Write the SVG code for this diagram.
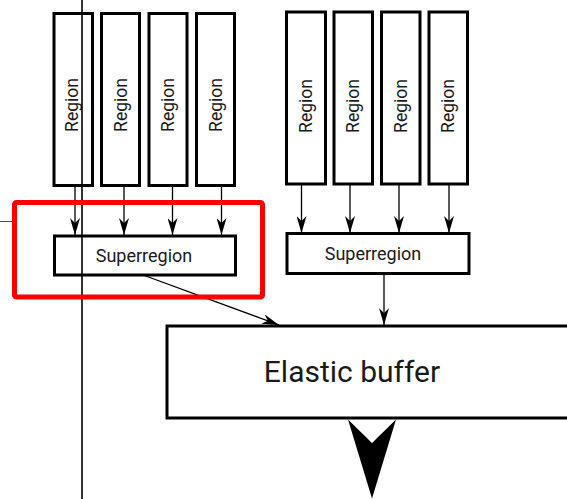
<svg xmlns="http://www.w3.org/2000/svg" width="567" height="499" viewBox="0 0 567 499">
  <style>
    .box { fill: #fff; stroke: #000; stroke-width: 3; }
    .lbl { font-family: Roboto, "Liberation Sans", sans-serif; fill: #1a1a1a; text-anchor: middle; dominant-baseline: central; }
    .reg { font-size: 17.5px; }
    .sup { font-size: 18px; }
    .big { font-size: 30px; }
    .conn { stroke: #000; stroke-width: 1.3; fill: none; }
  </style>
  <defs>
    <marker id="arr" viewBox="0 0 17 10" refX="17" refY="5" markerWidth="17" markerHeight="10" markerUnits="userSpaceOnUse" orient="auto">
      <path d="M0,0 L17,5 L0,10 L5,5 Z" fill="#000"/>
    </marker>
  </defs>
  <rect width="567" height="499" fill="#fff"/>

  <!-- left group of regions -->
  <g id="region-l1"><rect class="box" x="54" y="13.5" width="38.5" height="172"/><text class="lbl reg" transform="translate(72,105) rotate(-90)">Region</text></g>
  <g id="region-l2"><rect class="box" x="101.5" y="13.5" width="38" height="172"/><text class="lbl reg" transform="translate(120.5,105) rotate(-90)">Region</text></g>
  <g id="region-l3"><rect class="box" x="149" y="13.5" width="38" height="172"/><text class="lbl reg" transform="translate(168,105) rotate(-90)">Region</text></g>
  <g id="region-l4"><rect class="box" x="196.5" y="13.5" width="38" height="172"/><text class="lbl reg" transform="translate(215.5,105) rotate(-90)">Region</text></g>
  <g id="superregion-l"><rect class="box" x="54.5" y="236" width="181" height="39"/><text class="lbl sup" x="144" y="255">Superregion</text></g>

  <!-- right group of regions -->
  <g id="region-r1"><rect class="box" x="286.5" y="12" width="39" height="172"/><text class="lbl reg" transform="translate(306,106) rotate(-90)">Region</text></g>
  <g id="region-r2"><rect class="box" x="334" y="12" width="38.5" height="172"/><text class="lbl reg" transform="translate(353,106) rotate(-90)">Region</text></g>
  <g id="region-r3"><rect class="box" x="381.5" y="12" width="38.5" height="172"/><text class="lbl reg" transform="translate(400.5,106) rotate(-90)">Region</text></g>
  <g id="region-r4"><rect class="box" x="429" y="12" width="38.5" height="172"/><text class="lbl reg" transform="translate(448,106) rotate(-90)">Region</text></g>
  <g id="superregion-r"><rect class="box" x="287" y="233.5" width="182" height="40"/><text class="lbl sup" x="373" y="253">Superregion</text></g>

  <!-- elastic buffer, running off the right edge -->
  <g id="elastic-buffer"><rect class="box" x="167" y="326" width="410" height="92"/><text class="lbl big" x="352" y="371">Elastic buffer</text></g>

  <!-- connectors -->
  <g id="connectors">
    <line class="conn" x1="75" y1="185.5" x2="75" y2="235" marker-end="url(#arr)"/>
    <line class="conn" x1="124" y1="185.5" x2="124" y2="235" marker-end="url(#arr)"/>
    <line class="conn" x1="172.5" y1="185.5" x2="172.5" y2="235" marker-end="url(#arr)"/>
    <line class="conn" x1="221.5" y1="185.5" x2="221.5" y2="235" marker-end="url(#arr)"/>
    <line class="conn" x1="301.5" y1="184" x2="301.5" y2="233" marker-end="url(#arr)"/>
    <line class="conn" x1="350" y1="184" x2="350" y2="233" marker-end="url(#arr)"/>
    <line class="conn" x1="399" y1="184" x2="399" y2="233" marker-end="url(#arr)"/>
    <line class="conn" x1="449" y1="184" x2="449" y2="233" marker-end="url(#arr)"/>
    <line class="conn" x1="143" y1="275" x2="279" y2="325" marker-end="url(#arr)"/>
    <line class="conn" x1="384" y1="274" x2="384" y2="325" marker-end="url(#arr)"/>
    <!-- output of the buffer -->
    <path d="M348,419.5 L372,443 L396,419.5 L372,498.5 Z" fill="#000"/>
  </g>

  <!-- full-height guide line -->
  <line x1="82" y1="0" x2="82" y2="499" stroke="#000" stroke-width="1.6"/>

  <!-- highlight frame -->
  <line x1="0" y1="221.5" x2="13" y2="221.5" stroke="#f00" stroke-width="1"/>
  <rect x="14.5" y="202.5" width="248" height="94.5" rx="2" fill="none" stroke="#f00" stroke-width="5"/>
</svg>
